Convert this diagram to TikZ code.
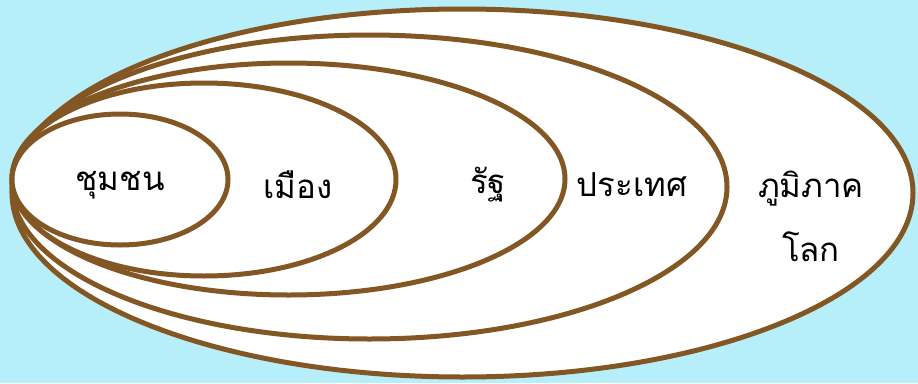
\documentclass[tikz,border=0pt]{standalone}
\usepackage{fontspec}
\newfontfamily\thaifont[Script=Thai]{Loma}
\usepackage{xcolor}
\usetikzlibrary{shapes.geometric}
\usetikzlibrary{positioning}
\definecolor{skyback}{RGB}{182,238,250}
\definecolor{ringbrown}{RGB}{131,87,36}

\begin{document}
\begin{tikzpicture}[x=1pt, y=-1pt, every node/.style={inner sep=0pt}]
\def\ringw{5pt}
\def\startx{12}
\def\txtsize{\fontsize{33}{64}\selectfont}
\fill[skyback] (0,0) rectangle (918,383);
\useasboundingbox (0,0) rectangle (918,383);

\node[fill=white, draw=ringbrown, line width=\ringw, ellipse, minimum width=901pt, minimum height=368pt] (lok) at (450.5+\startx,193) {};

\node[fill=white, draw=ringbrown, line width=\ringw, ellipse, minimum width=715pt, minimum height=304pt] (prathet) at (357.5+\startx,187) {};

\node[fill=white, draw=ringbrown, line width=\ringw, ellipse, minimum width=553pt, minimum height=232pt] (rat) at (276.5+\startx,179) {};

\node[fill=white, draw=ringbrown, line width=\ringw, ellipse, minimum width=384pt, minimum height=193pt] (mueang) at (192+\startx,179.5) {};

\node[fill=white, draw=ringbrown, line width=\ringw, ellipse, minimum width=216pt, minimum height=131pt] (chumchon) at (108+\startx,179.5) {};


\node[font=\thaifont\txtsize] (t1) at (120,185) {ชุมชน};

\node[font=\thaifont\txtsize] (t2) at (298,185) {เมือง};

\node[font=\thaifont\txtsize] (t3) at (488,185) {รัฐ};

\node[font=\thaifont\txtsize] (t4) at (632,185) {ประเทศ};

\node[font=\thaifont\txtsize, align=center] (t5) at (811,216) {ภูมิภาค\\โลก};
\end{tikzpicture}
\end{document}
